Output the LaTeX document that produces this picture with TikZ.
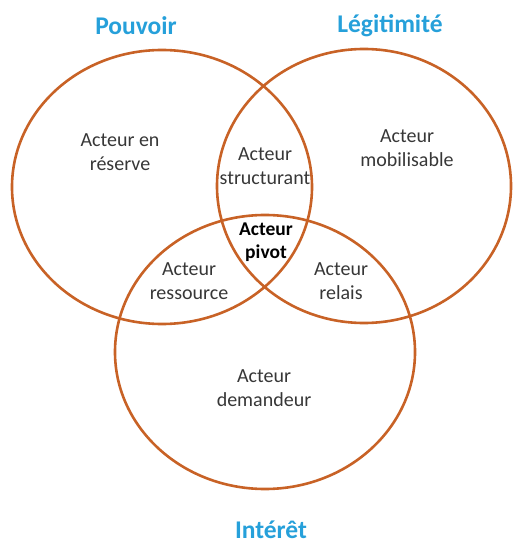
\documentclass[tikz,border=0pt]{standalone}
\usepackage{fontspec}
\setmainfont{Carlito}
\definecolor{ring}{RGB}{200,98,38}
\definecolor{ttl}{RGB}{38,160,218}
\definecolor{txt}{RGB}{55,55,55}
\tikzset{
  ring/.style={draw=ring, line width=2.6pt},
  ttlbl/.style={text=ttl, font=\fontsize{25.5}{29}\selectfont\bfseries},
  actor/.style={text=txt, align=center, font=\fontsize{20}{23.5}\selectfont},
  pivot/.style={actor, text=black, font=\fontsize{19.5}{23.5}\selectfont\bfseries}
}
\begin{document}
\begin{tikzpicture}[x=1pt,y=-1pt]
\useasboundingbox (0,0) rectangle (513,545);
\draw[ring] (162,187) ellipse [x radius=150, y radius=137];
\draw[ring] (364,186) ellipse [x radius=147, y radius=137];
\draw[ring] (265,352) ellipse [x radius=150, y radius=137];
\node[ttlbl] (pouvoir) at (136,26) {Pouvoir};
\node[ttlbl] (legit) at (390,26) {Légitimité};
\node[ttlbl] (interet) at (271,530) {Intérêt};
\node[actor] (reserve) at (120,152) {Acteur en\\réserve};
\node[actor] (struct) at (265,166) {Acteur\\structurant};
\node[actor] (mobil) at (407,148) {Acteur\\mobilisable};
\node[pivot] (pivot) at (266,242) {Acteur\\pivot};
\node[actor] (ress) at (189,281) {Acteur\\ressource};
\node[actor] (relais) at (341,281) {Acteur\\relais};
\node[actor] (dem) at (264,388) {Acteur\\demandeur};
\end{tikzpicture}
\end{document}
